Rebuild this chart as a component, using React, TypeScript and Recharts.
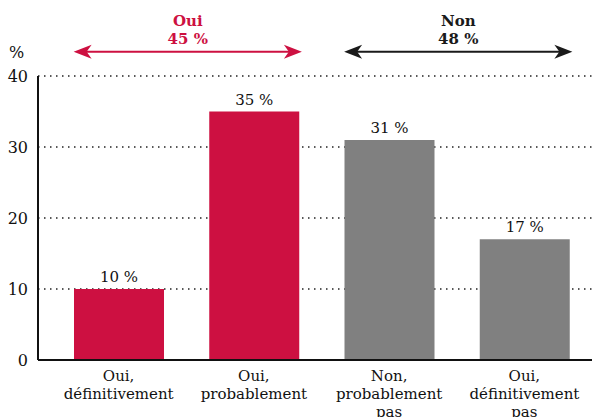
import React from 'react';
import {
  BarChart,
  Bar,
  XAxis,
  YAxis,
  CartesianGrid,
  Cell,
  LabelList,
  ReferenceLine
} from 'recharts';

const categories = ['Oui, définitivement', 'Oui, probablement', 'Non, probablement pas', 'Oui, définitivement pas'];
const tickLines = [['Oui,', 'définitivement'], ['Oui,', 'probablement'], ['Non,', 'probablement', 'pas'], ['Oui,', 'définitivement', 'pas']];
const values = [10, 35, 31, 17];
const yTicks = [0, 10, 20, 30, 40];

const groupLabels = ['Oui', 'Non'];
const groupTotals = ['45 %', '48 %'];
const groupFrom = [0, 2];
const groupTo = [1, 3];

const RED = '#cd1041';
const GREY = '#808080';
const DARK = '#1a1a1a';
const barColors = [RED, RED, GREY, GREY];
const groupColors = [RED, DARK];

const FONT = '"DejaVu Serif", serif';
const BAR_SIZE = 90;

const chartData = categories.map((name, i) => ({
  name,
  value: values[i],
  lines: tickLines[i]
}));

const MultiLineTick = (props: any) => {
  const { x, y, payload } = props;
  const lines = tickLines[payload.index] || [payload.value];
  return (
    <text x={x} y={y + 13} textAnchor="middle" fill="#111" fontSize={15} fontFamily={FONT}>
      {lines.map((l: string, i: number) => (
        <tspan key={i} x={x} dy={i === 0 ? 0 : 18}>{l}</tspan>
      ))}
    </text>
  );
};

const makeArrow = (g: number) => (props: any) => {
  const { x1, y1, x2 } = props;
  if (x1 == null || x2 == null) return null;
  const left = Math.min(x1, x2) - BAR_SIZE / 2;
  const right = Math.max(x1, x2) + BAR_SIZE / 2 + 3;
  const y = y1;
  const c = groupColors[g];
  const mid = (left + right) / 2;
  return (
    <g>
      <line x1={left + 8} y1={y} x2={right - 8} y2={y} stroke={c} strokeWidth={2} />
      <path d={`M${left},${y} L${left + 18},${y - 7} L${left + 13},${y} L${left + 18},${y + 7} Z`} fill={c} />
      <path d={`M${right},${y} L${right - 18},${y - 7} L${right - 13},${y} L${right - 18},${y + 7} Z`} fill={c} />
      <text x={mid} y={y - 26} textAnchor="middle" fill={c} fontSize={15} fontWeight="bold" fontFamily={FONT}>
        {groupLabels[g]}
      </text>
      <text x={mid} y={y - 8} textAnchor="middle" fill={c} fontSize={15} fontWeight="bold" fontFamily={FONT}>
        {groupTotals[g]}
      </text>
    </g>
  );
};

export default function App() {
  return (
    <div style={{ position: 'absolute', left: 0, top: 0, width: 597, height: 417, background: '#fff' }}>
      <BarChart
        width={597}
        height={417}
        data={chartData}
        margin={{ top: 76, right: 5, left: 0, bottom: 0 }}
      >
        <CartesianGrid
          vertical={false}
          stroke="#222"
          strokeDasharray="1.5 4.5"
          strokeWidth={1.5}
        />
        <XAxis
          dataKey="name"
          height={57}
          tick={<MultiLineTick />}
          tickLine={false}
          axisLine={{ stroke: '#111', strokeWidth: 2 }}
          interval={0}
          padding={{ left: 13, right: 0 }}
        />
        <YAxis
          width={38}
          domain={[0, 40]}
          ticks={yTicks}
          tickLine={false}
          axisLine={{ stroke: '#111', strokeWidth: 2 }}
          tick={{ fill: '#111', fontSize: 16, fontFamily: FONT, dx: -2 }}
          label={{ value: '%', position: 'insideTopLeft', dx: 4, dy: -34, fill: '#111', fontSize: 16, fontFamily: FONT }}
        />
        {groupLabels.map((_, g) => (
          <ReferenceLine
            key={g}
            segment={[
              { x: categories[groupFrom[g]], y: 43.4 },
              { x: categories[groupTo[g]], y: 43.4 }
            ]}
            ifOverflow="visible"
            shape={makeArrow(g)}
          />
        ))}
        <Bar dataKey="value" barSize={BAR_SIZE} isAnimationActive={false}>
          {chartData.map((_, i) => (
            <Cell key={`cell-${i}`} fill={barColors[i]} />
          ))}
          <LabelList
            dataKey="value"
            position="top"
            offset={7}
            formatter={(v: any) => `${v} %`}
            style={{ fill: '#111', fontSize: 15, fontFamily: FONT }}
          />
        </Bar>
      </BarChart>
    </div>
  );
}
